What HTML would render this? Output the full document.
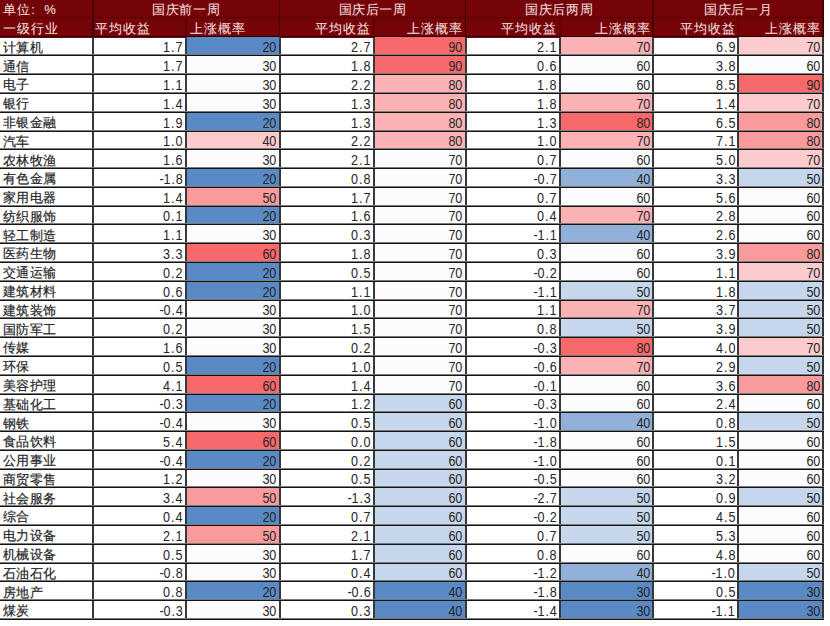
<!DOCTYPE html>
<html><head><meta charset="utf-8"><style>
html,body{margin:0;padding:0;background:#fff;width:830px;height:626px;overflow:hidden}
body{position:relative;font-family:"Liberation Sans",sans-serif;color:#262626}
.bg{position:absolute}
.c{position:absolute;box-sizing:border-box;font-size:14px;line-height:17px;height:17px;white-space:nowrap}
.n{padding-left:3px;font-size:13px;letter-spacing:0.3px;-webkit-text-stroke:0.2px #262626}
.v{text-align:right;padding-right:3.4px;font-size:14px;letter-spacing:-0.3px}
.v b{font-weight:normal;display:inline-block;transform:scaleX(0.9);transform-origin:100% 50%}
.v i{font-style:normal;margin:0 1.3px}
.vl{position:absolute;width:2px;background:#383838}
.hl{position:absolute;left:0;width:824px;height:2px;background:linear-gradient(#7a7a7a 50%,#141414 50%)}
.hd{position:absolute;background:#740408}
.hhl{position:absolute;left:0;width:824.3px;height:1px;background:#560000}
.hbl{position:absolute;left:0;width:824.3px;height:1.6px;background:#2a0000}
.ht{position:absolute;font-size:13px;letter-spacing:0.6px;-webkit-text-stroke:0.1px #f0dcdc;line-height:18px;color:#f0dcdc;white-space:nowrap;box-sizing:border-box}
.hvl{position:absolute;width:1.5px;background:#420000}
</style></head><body>
<div class="hd" style="left:0;top:0;width:824.3px;height:37.6px"></div><div class="hhl" style="top:17.3px"></div><div class="hbl" style="top:35.8px"></div><div class="hvl" style="left:92.10px;top:0;height:37px"></div><div class="ht" style="left:3px;top:1px">单位<span style="margin-left:1px;letter-spacing:0">:</span></div><div class="ht" style="left:44.3px;top:1px">%</div><div class="ht" style="left:3px;top:19.8px;letter-spacing:0.9px">一级行业</div><div class="ht" style="left:93.10px;width:186.40px;top:1px;text-align:center">国庆前一周</div><div class="ht" style="left:95.10px;top:19.8px;letter-spacing:1px">平均收益</div><div class="ht" style="left:189.60px;top:19.8px;letter-spacing:1px">上涨概率</div><div class="hvl" style="left:185.10px;top:17.5px;height:19px;opacity:.45"></div><div class="hvl" style="left:278.50px;top:0;height:37px"></div><div class="ht" style="left:279.50px;width:186.00px;top:1px;text-align:center">国庆后一周</div><div class="ht" style="left:279.50px;width:91.80px;top:19.8px;letter-spacing:1px;text-align:right">平均收益</div><div class="ht" style="left:373.50px;width:89.80px;top:19.8px;letter-spacing:1px;text-align:right">上涨概率</div><div class="hvl" style="left:373.00px;top:17.5px;height:19px;opacity:.45"></div><div class="hvl" style="left:464.50px;top:0;height:37px"></div><div class="ht" style="left:465.50px;width:187.60px;top:1px;text-align:center">国庆后两周</div><div class="ht" style="left:465.50px;width:91.80px;top:19.8px;letter-spacing:1px;text-align:right">平均收益</div><div class="ht" style="left:559.50px;width:91.40px;top:19.8px;letter-spacing:1px;text-align:right">上涨概率</div><div class="hvl" style="left:559.00px;top:17.5px;height:19px;opacity:.45"></div><div class="hvl" style="left:652.10px;top:0;height:37px"></div><div class="ht" style="left:653.10px;width:170.20px;top:1px;text-align:center">国庆后一月</div><div class="ht" style="left:653.10px;width:82.80px;top:19.8px;letter-spacing:1px;text-align:right">平均收益</div><div class="ht" style="left:738.10px;width:83.00px;top:19.8px;letter-spacing:1px;text-align:right">上涨概率</div><div class="hvl" style="left:737.60px;top:17.5px;height:19px;opacity:.45"></div><div class="hvl" style="left:822.30px;top:0;height:37px"></div>
<div class="bg" style="left:185.60px;top:36.60px;width:93.90px;height:18.79px;background:#5a8ac6"></div><div class="bg" style="left:373.50px;top:36.60px;width:92.00px;height:18.79px;background:#f8696b"></div><div class="bg" style="left:559.50px;top:36.60px;width:93.60px;height:18.79px;background:#fab2b5"></div><div class="bg" style="left:738.10px;top:36.60px;width:85.20px;height:18.79px;background:#fbcbce"></div><div class="bg" style="left:185.60px;top:55.39px;width:93.90px;height:18.79px;background:#fcfcff"></div><div class="bg" style="left:373.50px;top:55.39px;width:92.00px;height:18.79px;background:#f8696b"></div><div class="bg" style="left:559.50px;top:55.39px;width:93.60px;height:18.79px;background:#fcfcff"></div><div class="bg" style="left:738.10px;top:55.39px;width:85.20px;height:18.79px;background:#fcfcff"></div><div class="bg" style="left:185.60px;top:74.17px;width:93.90px;height:18.79px;background:#fcfcff"></div><div class="bg" style="left:373.50px;top:74.17px;width:92.00px;height:18.79px;background:#fab2b5"></div><div class="bg" style="left:559.50px;top:74.17px;width:93.60px;height:18.79px;background:#fcfcff"></div><div class="bg" style="left:738.10px;top:74.17px;width:85.20px;height:18.79px;background:#f8696b"></div><div class="bg" style="left:185.60px;top:92.96px;width:93.90px;height:18.79px;background:#fcfcff"></div><div class="bg" style="left:373.50px;top:92.96px;width:92.00px;height:18.79px;background:#fab2b5"></div><div class="bg" style="left:559.50px;top:92.96px;width:93.60px;height:18.79px;background:#fab2b5"></div><div class="bg" style="left:738.10px;top:92.96px;width:85.20px;height:18.79px;background:#fbcbce"></div><div class="bg" style="left:185.60px;top:111.74px;width:93.90px;height:18.79px;background:#5a8ac6"></div><div class="bg" style="left:373.50px;top:111.74px;width:92.00px;height:18.79px;background:#fab2b5"></div><div class="bg" style="left:559.50px;top:111.74px;width:93.60px;height:18.79px;background:#f8696b"></div><div class="bg" style="left:738.10px;top:111.74px;width:85.20px;height:18.79px;background:#f99a9c"></div><div class="bg" style="left:185.60px;top:130.53px;width:93.90px;height:18.79px;background:#fbcbce"></div><div class="bg" style="left:373.50px;top:130.53px;width:92.00px;height:18.79px;background:#fab2b5"></div><div class="bg" style="left:559.50px;top:130.53px;width:93.60px;height:18.79px;background:#fab2b5"></div><div class="bg" style="left:738.10px;top:130.53px;width:85.20px;height:18.79px;background:#f99a9c"></div><div class="bg" style="left:185.60px;top:149.31px;width:93.90px;height:18.79px;background:#fcfcff"></div><div class="bg" style="left:373.50px;top:149.31px;width:92.00px;height:18.79px;background:#fcfcff"></div><div class="bg" style="left:559.50px;top:149.31px;width:93.60px;height:18.79px;background:#fcfcff"></div><div class="bg" style="left:738.10px;top:149.31px;width:85.20px;height:18.79px;background:#fbcbce"></div><div class="bg" style="left:185.60px;top:168.09px;width:93.90px;height:18.79px;background:#5a8ac6"></div><div class="bg" style="left:373.50px;top:168.09px;width:92.00px;height:18.79px;background:#fcfcff"></div><div class="bg" style="left:559.50px;top:168.09px;width:93.60px;height:18.79px;background:#90b0d9"></div><div class="bg" style="left:738.10px;top:168.09px;width:85.20px;height:18.79px;background:#c6d6ec"></div><div class="bg" style="left:185.60px;top:186.88px;width:93.90px;height:18.79px;background:#f99a9c"></div><div class="bg" style="left:373.50px;top:186.88px;width:92.00px;height:18.79px;background:#fcfcff"></div><div class="bg" style="left:559.50px;top:186.88px;width:93.60px;height:18.79px;background:#fcfcff"></div><div class="bg" style="left:738.10px;top:186.88px;width:85.20px;height:18.79px;background:#fcfcff"></div><div class="bg" style="left:185.60px;top:205.66px;width:93.90px;height:18.79px;background:#5a8ac6"></div><div class="bg" style="left:373.50px;top:205.66px;width:92.00px;height:18.79px;background:#fcfcff"></div><div class="bg" style="left:559.50px;top:205.66px;width:93.60px;height:18.79px;background:#fab2b5"></div><div class="bg" style="left:738.10px;top:205.66px;width:85.20px;height:18.79px;background:#fcfcff"></div><div class="bg" style="left:185.60px;top:224.45px;width:93.90px;height:18.79px;background:#fcfcff"></div><div class="bg" style="left:373.50px;top:224.45px;width:92.00px;height:18.79px;background:#fcfcff"></div><div class="bg" style="left:559.50px;top:224.45px;width:93.60px;height:18.79px;background:#90b0d9"></div><div class="bg" style="left:738.10px;top:224.45px;width:85.20px;height:18.79px;background:#fcfcff"></div><div class="bg" style="left:185.60px;top:243.23px;width:93.90px;height:18.79px;background:#f8696b"></div><div class="bg" style="left:373.50px;top:243.23px;width:92.00px;height:18.79px;background:#fcfcff"></div><div class="bg" style="left:559.50px;top:243.23px;width:93.60px;height:18.79px;background:#fcfcff"></div><div class="bg" style="left:738.10px;top:243.23px;width:85.20px;height:18.79px;background:#f99a9c"></div><div class="bg" style="left:185.60px;top:262.02px;width:93.90px;height:18.79px;background:#5a8ac6"></div><div class="bg" style="left:373.50px;top:262.02px;width:92.00px;height:18.79px;background:#fcfcff"></div><div class="bg" style="left:559.50px;top:262.02px;width:93.60px;height:18.79px;background:#fcfcff"></div><div class="bg" style="left:738.10px;top:262.02px;width:85.20px;height:18.79px;background:#fbcbce"></div><div class="bg" style="left:185.60px;top:280.81px;width:93.90px;height:18.79px;background:#5a8ac6"></div><div class="bg" style="left:373.50px;top:280.81px;width:92.00px;height:18.79px;background:#fcfcff"></div><div class="bg" style="left:559.50px;top:280.81px;width:93.60px;height:18.79px;background:#c6d6ec"></div><div class="bg" style="left:738.10px;top:280.81px;width:85.20px;height:18.79px;background:#c6d6ec"></div><div class="bg" style="left:185.60px;top:299.59px;width:93.90px;height:18.79px;background:#fcfcff"></div><div class="bg" style="left:373.50px;top:299.59px;width:92.00px;height:18.79px;background:#fcfcff"></div><div class="bg" style="left:559.50px;top:299.59px;width:93.60px;height:18.79px;background:#fab2b5"></div><div class="bg" style="left:738.10px;top:299.59px;width:85.20px;height:18.79px;background:#c6d6ec"></div><div class="bg" style="left:185.60px;top:318.38px;width:93.90px;height:18.79px;background:#fcfcff"></div><div class="bg" style="left:373.50px;top:318.38px;width:92.00px;height:18.79px;background:#fcfcff"></div><div class="bg" style="left:559.50px;top:318.38px;width:93.60px;height:18.79px;background:#c6d6ec"></div><div class="bg" style="left:738.10px;top:318.38px;width:85.20px;height:18.79px;background:#c6d6ec"></div><div class="bg" style="left:185.60px;top:337.16px;width:93.90px;height:18.79px;background:#fcfcff"></div><div class="bg" style="left:373.50px;top:337.16px;width:92.00px;height:18.79px;background:#fcfcff"></div><div class="bg" style="left:559.50px;top:337.16px;width:93.60px;height:18.79px;background:#f8696b"></div><div class="bg" style="left:738.10px;top:337.16px;width:85.20px;height:18.79px;background:#fbcbce"></div><div class="bg" style="left:185.60px;top:355.95px;width:93.90px;height:18.79px;background:#5a8ac6"></div><div class="bg" style="left:373.50px;top:355.95px;width:92.00px;height:18.79px;background:#fcfcff"></div><div class="bg" style="left:559.50px;top:355.95px;width:93.60px;height:18.79px;background:#fab2b5"></div><div class="bg" style="left:738.10px;top:355.95px;width:85.20px;height:18.79px;background:#c6d6ec"></div><div class="bg" style="left:185.60px;top:374.73px;width:93.90px;height:18.79px;background:#f8696b"></div><div class="bg" style="left:373.50px;top:374.73px;width:92.00px;height:18.79px;background:#fcfcff"></div><div class="bg" style="left:559.50px;top:374.73px;width:93.60px;height:18.79px;background:#fcfcff"></div><div class="bg" style="left:738.10px;top:374.73px;width:85.20px;height:18.79px;background:#f99a9c"></div><div class="bg" style="left:185.60px;top:393.52px;width:93.90px;height:18.79px;background:#5a8ac6"></div><div class="bg" style="left:373.50px;top:393.52px;width:92.00px;height:18.79px;background:#c6d6ec"></div><div class="bg" style="left:559.50px;top:393.52px;width:93.60px;height:18.79px;background:#fcfcff"></div><div class="bg" style="left:738.10px;top:393.52px;width:85.20px;height:18.79px;background:#fcfcff"></div><div class="bg" style="left:185.60px;top:412.30px;width:93.90px;height:18.79px;background:#fcfcff"></div><div class="bg" style="left:373.50px;top:412.30px;width:92.00px;height:18.79px;background:#c6d6ec"></div><div class="bg" style="left:559.50px;top:412.30px;width:93.60px;height:18.79px;background:#90b0d9"></div><div class="bg" style="left:738.10px;top:412.30px;width:85.20px;height:18.79px;background:#c6d6ec"></div><div class="bg" style="left:185.60px;top:431.09px;width:93.90px;height:18.79px;background:#f8696b"></div><div class="bg" style="left:373.50px;top:431.09px;width:92.00px;height:18.79px;background:#c6d6ec"></div><div class="bg" style="left:559.50px;top:431.09px;width:93.60px;height:18.79px;background:#fcfcff"></div><div class="bg" style="left:738.10px;top:431.09px;width:85.20px;height:18.79px;background:#fcfcff"></div><div class="bg" style="left:185.60px;top:449.87px;width:93.90px;height:18.79px;background:#5a8ac6"></div><div class="bg" style="left:373.50px;top:449.87px;width:92.00px;height:18.79px;background:#c6d6ec"></div><div class="bg" style="left:559.50px;top:449.87px;width:93.60px;height:18.79px;background:#fcfcff"></div><div class="bg" style="left:738.10px;top:449.87px;width:85.20px;height:18.79px;background:#fcfcff"></div><div class="bg" style="left:185.60px;top:468.66px;width:93.90px;height:18.79px;background:#fcfcff"></div><div class="bg" style="left:373.50px;top:468.66px;width:92.00px;height:18.79px;background:#c6d6ec"></div><div class="bg" style="left:559.50px;top:468.66px;width:93.60px;height:18.79px;background:#fcfcff"></div><div class="bg" style="left:738.10px;top:468.66px;width:85.20px;height:18.79px;background:#fcfcff"></div><div class="bg" style="left:185.60px;top:487.44px;width:93.90px;height:18.79px;background:#f99a9c"></div><div class="bg" style="left:373.50px;top:487.44px;width:92.00px;height:18.79px;background:#c6d6ec"></div><div class="bg" style="left:559.50px;top:487.44px;width:93.60px;height:18.79px;background:#c6d6ec"></div><div class="bg" style="left:738.10px;top:487.44px;width:85.20px;height:18.79px;background:#c6d6ec"></div><div class="bg" style="left:185.60px;top:506.23px;width:93.90px;height:18.79px;background:#5a8ac6"></div><div class="bg" style="left:373.50px;top:506.23px;width:92.00px;height:18.79px;background:#c6d6ec"></div><div class="bg" style="left:559.50px;top:506.23px;width:93.60px;height:18.79px;background:#c6d6ec"></div><div class="bg" style="left:738.10px;top:506.23px;width:85.20px;height:18.79px;background:#fcfcff"></div><div class="bg" style="left:185.60px;top:525.01px;width:93.90px;height:18.79px;background:#f99a9c"></div><div class="bg" style="left:373.50px;top:525.01px;width:92.00px;height:18.79px;background:#c6d6ec"></div><div class="bg" style="left:559.50px;top:525.01px;width:93.60px;height:18.79px;background:#c6d6ec"></div><div class="bg" style="left:738.10px;top:525.01px;width:85.20px;height:18.79px;background:#fcfcff"></div><div class="bg" style="left:185.60px;top:543.79px;width:93.90px;height:18.79px;background:#fcfcff"></div><div class="bg" style="left:373.50px;top:543.79px;width:92.00px;height:18.79px;background:#c6d6ec"></div><div class="bg" style="left:559.50px;top:543.79px;width:93.60px;height:18.79px;background:#fcfcff"></div><div class="bg" style="left:738.10px;top:543.79px;width:85.20px;height:18.79px;background:#fcfcff"></div><div class="bg" style="left:185.60px;top:562.58px;width:93.90px;height:18.79px;background:#fcfcff"></div><div class="bg" style="left:373.50px;top:562.58px;width:92.00px;height:18.79px;background:#c6d6ec"></div><div class="bg" style="left:559.50px;top:562.58px;width:93.60px;height:18.79px;background:#90b0d9"></div><div class="bg" style="left:738.10px;top:562.58px;width:85.20px;height:18.79px;background:#c6d6ec"></div><div class="bg" style="left:185.60px;top:581.37px;width:93.90px;height:18.79px;background:#5a8ac6"></div><div class="bg" style="left:373.50px;top:581.37px;width:92.00px;height:18.79px;background:#5a8ac6"></div><div class="bg" style="left:559.50px;top:581.37px;width:93.60px;height:18.79px;background:#5a8ac6"></div><div class="bg" style="left:738.10px;top:581.37px;width:85.20px;height:18.79px;background:#5a8ac6"></div><div class="bg" style="left:185.60px;top:600.15px;width:93.90px;height:18.79px;background:#fcfcff"></div><div class="bg" style="left:373.50px;top:600.15px;width:92.00px;height:18.79px;background:#5a8ac6"></div><div class="bg" style="left:559.50px;top:600.15px;width:93.60px;height:18.79px;background:#5a8ac6"></div><div class="bg" style="left:738.10px;top:600.15px;width:85.20px;height:18.79px;background:#5a8ac6"></div>
<div class="vl" style="left:92px;top:36.60px;height:583.34px"></div><div class="vl" style="left:185px;top:36.60px;height:583.34px"></div><div class="vl" style="left:279px;top:36.60px;height:583.34px"></div><div class="vl" style="left:373px;top:36.60px;height:583.34px"></div><div class="vl" style="left:465px;top:36.60px;height:583.34px"></div><div class="vl" style="left:559px;top:36.60px;height:583.34px"></div><div class="vl" style="left:652px;top:36.60px;height:583.34px"></div><div class="vl" style="left:737px;top:36.60px;height:583.34px"></div><div class="vl" style="left:822px;top:36.60px;height:583.34px"></div><div class="hl" style="top:54px"></div><div class="hl" style="top:73px"></div><div class="hl" style="top:92px"></div><div class="hl" style="top:111px"></div><div class="hl" style="top:130px"></div><div class="hl" style="top:148px"></div><div class="hl" style="top:167px"></div><div class="hl" style="top:186px"></div><div class="hl" style="top:205px"></div><div class="hl" style="top:223px"></div><div class="hl" style="top:242px"></div><div class="hl" style="top:261px"></div><div class="hl" style="top:280px"></div><div class="hl" style="top:299px"></div><div class="hl" style="top:317px"></div><div class="hl" style="top:336px"></div><div class="hl" style="top:355px"></div><div class="hl" style="top:374px"></div><div class="hl" style="top:393px"></div><div class="hl" style="top:411px"></div><div class="hl" style="top:430px"></div><div class="hl" style="top:449px"></div><div class="hl" style="top:468px"></div><div class="hl" style="top:486px"></div><div class="hl" style="top:505px"></div><div class="hl" style="top:524px"></div><div class="hl" style="top:543px"></div><div class="hl" style="top:562px"></div><div class="hl" style="top:580px"></div><div class="hl" style="top:599px"></div><div class="hl" style="top:618px"></div>
<div class="c n" style="left:0;top:38.80px;width:93.10px">计算机</div><div class="c v" style="left:93.10px;top:39.40px;width:92.50px"><b>1<i>.</i>7</b></div><div class="c v" style="left:185.60px;top:39.40px;width:93.90px"><b>20</b></div><div class="c v" style="left:279.50px;top:39.40px;width:94.00px"><b>2<i>.</i>7</b></div><div class="c v" style="left:373.50px;top:39.40px;width:92.00px"><b>90</b></div><div class="c v" style="left:465.50px;top:39.40px;width:94.00px"><b>2<i>.</i>1</b></div><div class="c v" style="left:559.50px;top:39.40px;width:93.60px"><b>70</b></div><div class="c v" style="left:653.10px;top:39.40px;width:85.00px"><b>6<i>.</i>9</b></div><div class="c v" style="left:738.10px;top:39.40px;width:85.20px"><b>70</b></div><div class="c n" style="left:0;top:57.59px;width:93.10px">通信</div><div class="c v" style="left:93.10px;top:58.19px;width:92.50px"><b>1<i>.</i>7</b></div><div class="c v" style="left:185.60px;top:58.19px;width:93.90px"><b>30</b></div><div class="c v" style="left:279.50px;top:58.19px;width:94.00px"><b>1<i>.</i>8</b></div><div class="c v" style="left:373.50px;top:58.19px;width:92.00px"><b>90</b></div><div class="c v" style="left:465.50px;top:58.19px;width:94.00px"><b>0<i>.</i>6</b></div><div class="c v" style="left:559.50px;top:58.19px;width:93.60px"><b>60</b></div><div class="c v" style="left:653.10px;top:58.19px;width:85.00px"><b>3<i>.</i>8</b></div><div class="c v" style="left:738.10px;top:58.19px;width:85.20px"><b>60</b></div><div class="c n" style="left:0;top:76.37px;width:93.10px">电子</div><div class="c v" style="left:93.10px;top:76.97px;width:92.50px"><b>1<i>.</i>1</b></div><div class="c v" style="left:185.60px;top:76.97px;width:93.90px"><b>30</b></div><div class="c v" style="left:279.50px;top:76.97px;width:94.00px"><b>2<i>.</i>2</b></div><div class="c v" style="left:373.50px;top:76.97px;width:92.00px"><b>80</b></div><div class="c v" style="left:465.50px;top:76.97px;width:94.00px"><b>1<i>.</i>8</b></div><div class="c v" style="left:559.50px;top:76.97px;width:93.60px"><b>60</b></div><div class="c v" style="left:653.10px;top:76.97px;width:85.00px"><b>8<i>.</i>5</b></div><div class="c v" style="left:738.10px;top:76.97px;width:85.20px"><b>90</b></div><div class="c n" style="left:0;top:95.16px;width:93.10px">银行</div><div class="c v" style="left:93.10px;top:95.76px;width:92.50px"><b>1<i>.</i>4</b></div><div class="c v" style="left:185.60px;top:95.76px;width:93.90px"><b>30</b></div><div class="c v" style="left:279.50px;top:95.76px;width:94.00px"><b>1<i>.</i>3</b></div><div class="c v" style="left:373.50px;top:95.76px;width:92.00px"><b>80</b></div><div class="c v" style="left:465.50px;top:95.76px;width:94.00px"><b>1<i>.</i>8</b></div><div class="c v" style="left:559.50px;top:95.76px;width:93.60px"><b>70</b></div><div class="c v" style="left:653.10px;top:95.76px;width:85.00px"><b>1<i>.</i>4</b></div><div class="c v" style="left:738.10px;top:95.76px;width:85.20px"><b>70</b></div><div class="c n" style="left:0;top:113.94px;width:93.10px">非银金融</div><div class="c v" style="left:93.10px;top:114.54px;width:92.50px"><b>1<i>.</i>9</b></div><div class="c v" style="left:185.60px;top:114.54px;width:93.90px"><b>20</b></div><div class="c v" style="left:279.50px;top:114.54px;width:94.00px"><b>1<i>.</i>3</b></div><div class="c v" style="left:373.50px;top:114.54px;width:92.00px"><b>80</b></div><div class="c v" style="left:465.50px;top:114.54px;width:94.00px"><b>1<i>.</i>3</b></div><div class="c v" style="left:559.50px;top:114.54px;width:93.60px"><b>80</b></div><div class="c v" style="left:653.10px;top:114.54px;width:85.00px"><b>6<i>.</i>5</b></div><div class="c v" style="left:738.10px;top:114.54px;width:85.20px"><b>80</b></div><div class="c n" style="left:0;top:132.73px;width:93.10px">汽车</div><div class="c v" style="left:93.10px;top:133.33px;width:92.50px"><b>1<i>.</i>0</b></div><div class="c v" style="left:185.60px;top:133.33px;width:93.90px"><b>40</b></div><div class="c v" style="left:279.50px;top:133.33px;width:94.00px"><b>2<i>.</i>2</b></div><div class="c v" style="left:373.50px;top:133.33px;width:92.00px"><b>80</b></div><div class="c v" style="left:465.50px;top:133.33px;width:94.00px"><b>1<i>.</i>0</b></div><div class="c v" style="left:559.50px;top:133.33px;width:93.60px"><b>70</b></div><div class="c v" style="left:653.10px;top:133.33px;width:85.00px"><b>7<i>.</i>1</b></div><div class="c v" style="left:738.10px;top:133.33px;width:85.20px"><b>80</b></div><div class="c n" style="left:0;top:151.51px;width:93.10px">农林牧渔</div><div class="c v" style="left:93.10px;top:152.11px;width:92.50px"><b>1<i>.</i>6</b></div><div class="c v" style="left:185.60px;top:152.11px;width:93.90px"><b>30</b></div><div class="c v" style="left:279.50px;top:152.11px;width:94.00px"><b>2<i>.</i>1</b></div><div class="c v" style="left:373.50px;top:152.11px;width:92.00px"><b>70</b></div><div class="c v" style="left:465.50px;top:152.11px;width:94.00px"><b>0<i>.</i>7</b></div><div class="c v" style="left:559.50px;top:152.11px;width:93.60px"><b>60</b></div><div class="c v" style="left:653.10px;top:152.11px;width:85.00px"><b>5<i>.</i>0</b></div><div class="c v" style="left:738.10px;top:152.11px;width:85.20px"><b>70</b></div><div class="c n" style="left:0;top:170.30px;width:93.10px">有色金属</div><div class="c v" style="left:93.10px;top:170.90px;width:92.50px"><b>-1<i>.</i>8</b></div><div class="c v" style="left:185.60px;top:170.90px;width:93.90px"><b>20</b></div><div class="c v" style="left:279.50px;top:170.90px;width:94.00px"><b>0<i>.</i>8</b></div><div class="c v" style="left:373.50px;top:170.90px;width:92.00px"><b>70</b></div><div class="c v" style="left:465.50px;top:170.90px;width:94.00px"><b>-0<i>.</i>7</b></div><div class="c v" style="left:559.50px;top:170.90px;width:93.60px"><b>40</b></div><div class="c v" style="left:653.10px;top:170.90px;width:85.00px"><b>3<i>.</i>3</b></div><div class="c v" style="left:738.10px;top:170.90px;width:85.20px"><b>50</b></div><div class="c n" style="left:0;top:189.08px;width:93.10px">家用电器</div><div class="c v" style="left:93.10px;top:189.68px;width:92.50px"><b>1<i>.</i>4</b></div><div class="c v" style="left:185.60px;top:189.68px;width:93.90px"><b>50</b></div><div class="c v" style="left:279.50px;top:189.68px;width:94.00px"><b>1<i>.</i>7</b></div><div class="c v" style="left:373.50px;top:189.68px;width:92.00px"><b>70</b></div><div class="c v" style="left:465.50px;top:189.68px;width:94.00px"><b>0<i>.</i>7</b></div><div class="c v" style="left:559.50px;top:189.68px;width:93.60px"><b>60</b></div><div class="c v" style="left:653.10px;top:189.68px;width:85.00px"><b>5<i>.</i>6</b></div><div class="c v" style="left:738.10px;top:189.68px;width:85.20px"><b>60</b></div><div class="c n" style="left:0;top:207.87px;width:93.10px">纺织服饰</div><div class="c v" style="left:93.10px;top:208.47px;width:92.50px"><b>0<i>.</i>1</b></div><div class="c v" style="left:185.60px;top:208.47px;width:93.90px"><b>20</b></div><div class="c v" style="left:279.50px;top:208.47px;width:94.00px"><b>1<i>.</i>6</b></div><div class="c v" style="left:373.50px;top:208.47px;width:92.00px"><b>70</b></div><div class="c v" style="left:465.50px;top:208.47px;width:94.00px"><b>0<i>.</i>4</b></div><div class="c v" style="left:559.50px;top:208.47px;width:93.60px"><b>70</b></div><div class="c v" style="left:653.10px;top:208.47px;width:85.00px"><b>2<i>.</i>8</b></div><div class="c v" style="left:738.10px;top:208.47px;width:85.20px"><b>60</b></div><div class="c n" style="left:0;top:226.65px;width:93.10px">轻工制造</div><div class="c v" style="left:93.10px;top:227.25px;width:92.50px"><b>1<i>.</i>1</b></div><div class="c v" style="left:185.60px;top:227.25px;width:93.90px"><b>30</b></div><div class="c v" style="left:279.50px;top:227.25px;width:94.00px"><b>0<i>.</i>3</b></div><div class="c v" style="left:373.50px;top:227.25px;width:92.00px"><b>70</b></div><div class="c v" style="left:465.50px;top:227.25px;width:94.00px"><b>-1<i>.</i>1</b></div><div class="c v" style="left:559.50px;top:227.25px;width:93.60px"><b>40</b></div><div class="c v" style="left:653.10px;top:227.25px;width:85.00px"><b>2<i>.</i>6</b></div><div class="c v" style="left:738.10px;top:227.25px;width:85.20px"><b>60</b></div><div class="c n" style="left:0;top:245.44px;width:93.10px">医药生物</div><div class="c v" style="left:93.10px;top:246.03px;width:92.50px"><b>3<i>.</i>3</b></div><div class="c v" style="left:185.60px;top:246.03px;width:93.90px"><b>60</b></div><div class="c v" style="left:279.50px;top:246.03px;width:94.00px"><b>1<i>.</i>8</b></div><div class="c v" style="left:373.50px;top:246.03px;width:92.00px"><b>70</b></div><div class="c v" style="left:465.50px;top:246.03px;width:94.00px"><b>0<i>.</i>3</b></div><div class="c v" style="left:559.50px;top:246.03px;width:93.60px"><b>60</b></div><div class="c v" style="left:653.10px;top:246.03px;width:85.00px"><b>3<i>.</i>9</b></div><div class="c v" style="left:738.10px;top:246.03px;width:85.20px"><b>80</b></div><div class="c n" style="left:0;top:264.22px;width:93.10px">交通运输</div><div class="c v" style="left:93.10px;top:264.82px;width:92.50px"><b>0<i>.</i>2</b></div><div class="c v" style="left:185.60px;top:264.82px;width:93.90px"><b>20</b></div><div class="c v" style="left:279.50px;top:264.82px;width:94.00px"><b>0<i>.</i>5</b></div><div class="c v" style="left:373.50px;top:264.82px;width:92.00px"><b>70</b></div><div class="c v" style="left:465.50px;top:264.82px;width:94.00px"><b>-0<i>.</i>2</b></div><div class="c v" style="left:559.50px;top:264.82px;width:93.60px"><b>60</b></div><div class="c v" style="left:653.10px;top:264.82px;width:85.00px"><b>1<i>.</i>1</b></div><div class="c v" style="left:738.10px;top:264.82px;width:85.20px"><b>70</b></div><div class="c n" style="left:0;top:283.00px;width:93.10px">建筑材料</div><div class="c v" style="left:93.10px;top:283.61px;width:92.50px"><b>0<i>.</i>6</b></div><div class="c v" style="left:185.60px;top:283.61px;width:93.90px"><b>20</b></div><div class="c v" style="left:279.50px;top:283.61px;width:94.00px"><b>1<i>.</i>1</b></div><div class="c v" style="left:373.50px;top:283.61px;width:92.00px"><b>70</b></div><div class="c v" style="left:465.50px;top:283.61px;width:94.00px"><b>-1<i>.</i>1</b></div><div class="c v" style="left:559.50px;top:283.61px;width:93.60px"><b>50</b></div><div class="c v" style="left:653.10px;top:283.61px;width:85.00px"><b>1<i>.</i>8</b></div><div class="c v" style="left:738.10px;top:283.61px;width:85.20px"><b>50</b></div><div class="c n" style="left:0;top:301.79px;width:93.10px">建筑装饰</div><div class="c v" style="left:93.10px;top:302.39px;width:92.50px"><b>-0<i>.</i>4</b></div><div class="c v" style="left:185.60px;top:302.39px;width:93.90px"><b>30</b></div><div class="c v" style="left:279.50px;top:302.39px;width:94.00px"><b>1<i>.</i>0</b></div><div class="c v" style="left:373.50px;top:302.39px;width:92.00px"><b>70</b></div><div class="c v" style="left:465.50px;top:302.39px;width:94.00px"><b>1<i>.</i>1</b></div><div class="c v" style="left:559.50px;top:302.39px;width:93.60px"><b>70</b></div><div class="c v" style="left:653.10px;top:302.39px;width:85.00px"><b>3<i>.</i>7</b></div><div class="c v" style="left:738.10px;top:302.39px;width:85.20px"><b>50</b></div><div class="c n" style="left:0;top:320.57px;width:93.10px">国防军工</div><div class="c v" style="left:93.10px;top:321.18px;width:92.50px"><b>0<i>.</i>2</b></div><div class="c v" style="left:185.60px;top:321.18px;width:93.90px"><b>30</b></div><div class="c v" style="left:279.50px;top:321.18px;width:94.00px"><b>1<i>.</i>5</b></div><div class="c v" style="left:373.50px;top:321.18px;width:92.00px"><b>70</b></div><div class="c v" style="left:465.50px;top:321.18px;width:94.00px"><b>0<i>.</i>8</b></div><div class="c v" style="left:559.50px;top:321.18px;width:93.60px"><b>50</b></div><div class="c v" style="left:653.10px;top:321.18px;width:85.00px"><b>3<i>.</i>9</b></div><div class="c v" style="left:738.10px;top:321.18px;width:85.20px"><b>50</b></div><div class="c n" style="left:0;top:339.36px;width:93.10px">传媒</div><div class="c v" style="left:93.10px;top:339.96px;width:92.50px"><b>1<i>.</i>6</b></div><div class="c v" style="left:185.60px;top:339.96px;width:93.90px"><b>30</b></div><div class="c v" style="left:279.50px;top:339.96px;width:94.00px"><b>0<i>.</i>2</b></div><div class="c v" style="left:373.50px;top:339.96px;width:92.00px"><b>70</b></div><div class="c v" style="left:465.50px;top:339.96px;width:94.00px"><b>-0<i>.</i>3</b></div><div class="c v" style="left:559.50px;top:339.96px;width:93.60px"><b>80</b></div><div class="c v" style="left:653.10px;top:339.96px;width:85.00px"><b>4<i>.</i>0</b></div><div class="c v" style="left:738.10px;top:339.96px;width:85.20px"><b>70</b></div><div class="c n" style="left:0;top:358.15px;width:93.10px">环保</div><div class="c v" style="left:93.10px;top:358.75px;width:92.50px"><b>0<i>.</i>5</b></div><div class="c v" style="left:185.60px;top:358.75px;width:93.90px"><b>20</b></div><div class="c v" style="left:279.50px;top:358.75px;width:94.00px"><b>1<i>.</i>0</b></div><div class="c v" style="left:373.50px;top:358.75px;width:92.00px"><b>70</b></div><div class="c v" style="left:465.50px;top:358.75px;width:94.00px"><b>-0<i>.</i>6</b></div><div class="c v" style="left:559.50px;top:358.75px;width:93.60px"><b>70</b></div><div class="c v" style="left:653.10px;top:358.75px;width:85.00px"><b>2<i>.</i>9</b></div><div class="c v" style="left:738.10px;top:358.75px;width:85.20px"><b>50</b></div><div class="c n" style="left:0;top:376.93px;width:93.10px">美容护理</div><div class="c v" style="left:93.10px;top:377.53px;width:92.50px"><b>4<i>.</i>1</b></div><div class="c v" style="left:185.60px;top:377.53px;width:93.90px"><b>60</b></div><div class="c v" style="left:279.50px;top:377.53px;width:94.00px"><b>1<i>.</i>4</b></div><div class="c v" style="left:373.50px;top:377.53px;width:92.00px"><b>70</b></div><div class="c v" style="left:465.50px;top:377.53px;width:94.00px"><b>-0<i>.</i>1</b></div><div class="c v" style="left:559.50px;top:377.53px;width:93.60px"><b>60</b></div><div class="c v" style="left:653.10px;top:377.53px;width:85.00px"><b>3<i>.</i>6</b></div><div class="c v" style="left:738.10px;top:377.53px;width:85.20px"><b>80</b></div><div class="c n" style="left:0;top:395.72px;width:93.10px">基础化工</div><div class="c v" style="left:93.10px;top:396.32px;width:92.50px"><b>-0<i>.</i>3</b></div><div class="c v" style="left:185.60px;top:396.32px;width:93.90px"><b>20</b></div><div class="c v" style="left:279.50px;top:396.32px;width:94.00px"><b>1<i>.</i>2</b></div><div class="c v" style="left:373.50px;top:396.32px;width:92.00px"><b>60</b></div><div class="c v" style="left:465.50px;top:396.32px;width:94.00px"><b>-0<i>.</i>3</b></div><div class="c v" style="left:559.50px;top:396.32px;width:93.60px"><b>60</b></div><div class="c v" style="left:653.10px;top:396.32px;width:85.00px"><b>2<i>.</i>4</b></div><div class="c v" style="left:738.10px;top:396.32px;width:85.20px"><b>60</b></div><div class="c n" style="left:0;top:414.50px;width:93.10px">钢铁</div><div class="c v" style="left:93.10px;top:415.10px;width:92.50px"><b>-0<i>.</i>4</b></div><div class="c v" style="left:185.60px;top:415.10px;width:93.90px"><b>30</b></div><div class="c v" style="left:279.50px;top:415.10px;width:94.00px"><b>0<i>.</i>5</b></div><div class="c v" style="left:373.50px;top:415.10px;width:92.00px"><b>60</b></div><div class="c v" style="left:465.50px;top:415.10px;width:94.00px"><b>-1<i>.</i>0</b></div><div class="c v" style="left:559.50px;top:415.10px;width:93.60px"><b>40</b></div><div class="c v" style="left:653.10px;top:415.10px;width:85.00px"><b>0<i>.</i>8</b></div><div class="c v" style="left:738.10px;top:415.10px;width:85.20px"><b>50</b></div><div class="c n" style="left:0;top:433.29px;width:93.10px">食品饮料</div><div class="c v" style="left:93.10px;top:433.89px;width:92.50px"><b>5<i>.</i>4</b></div><div class="c v" style="left:185.60px;top:433.89px;width:93.90px"><b>60</b></div><div class="c v" style="left:279.50px;top:433.89px;width:94.00px"><b>0<i>.</i>0</b></div><div class="c v" style="left:373.50px;top:433.89px;width:92.00px"><b>60</b></div><div class="c v" style="left:465.50px;top:433.89px;width:94.00px"><b>-1<i>.</i>8</b></div><div class="c v" style="left:559.50px;top:433.89px;width:93.60px"><b>60</b></div><div class="c v" style="left:653.10px;top:433.89px;width:85.00px"><b>1<i>.</i>5</b></div><div class="c v" style="left:738.10px;top:433.89px;width:85.20px"><b>60</b></div><div class="c n" style="left:0;top:452.07px;width:93.10px">公用事业</div><div class="c v" style="left:93.10px;top:452.67px;width:92.50px"><b>-0<i>.</i>4</b></div><div class="c v" style="left:185.60px;top:452.67px;width:93.90px"><b>20</b></div><div class="c v" style="left:279.50px;top:452.67px;width:94.00px"><b>0<i>.</i>2</b></div><div class="c v" style="left:373.50px;top:452.67px;width:92.00px"><b>60</b></div><div class="c v" style="left:465.50px;top:452.67px;width:94.00px"><b>-1<i>.</i>0</b></div><div class="c v" style="left:559.50px;top:452.67px;width:93.60px"><b>60</b></div><div class="c v" style="left:653.10px;top:452.67px;width:85.00px"><b>0<i>.</i>1</b></div><div class="c v" style="left:738.10px;top:452.67px;width:85.20px"><b>60</b></div><div class="c n" style="left:0;top:470.86px;width:93.10px">商贸零售</div><div class="c v" style="left:93.10px;top:471.46px;width:92.50px"><b>1<i>.</i>2</b></div><div class="c v" style="left:185.60px;top:471.46px;width:93.90px"><b>30</b></div><div class="c v" style="left:279.50px;top:471.46px;width:94.00px"><b>0<i>.</i>5</b></div><div class="c v" style="left:373.50px;top:471.46px;width:92.00px"><b>60</b></div><div class="c v" style="left:465.50px;top:471.46px;width:94.00px"><b>-0<i>.</i>5</b></div><div class="c v" style="left:559.50px;top:471.46px;width:93.60px"><b>60</b></div><div class="c v" style="left:653.10px;top:471.46px;width:85.00px"><b>3<i>.</i>2</b></div><div class="c v" style="left:738.10px;top:471.46px;width:85.20px"><b>60</b></div><div class="c n" style="left:0;top:489.64px;width:93.10px">社会服务</div><div class="c v" style="left:93.10px;top:490.24px;width:92.50px"><b>3<i>.</i>4</b></div><div class="c v" style="left:185.60px;top:490.24px;width:93.90px"><b>50</b></div><div class="c v" style="left:279.50px;top:490.24px;width:94.00px"><b>-1<i>.</i>3</b></div><div class="c v" style="left:373.50px;top:490.24px;width:92.00px"><b>60</b></div><div class="c v" style="left:465.50px;top:490.24px;width:94.00px"><b>-2<i>.</i>7</b></div><div class="c v" style="left:559.50px;top:490.24px;width:93.60px"><b>50</b></div><div class="c v" style="left:653.10px;top:490.24px;width:85.00px"><b>0<i>.</i>9</b></div><div class="c v" style="left:738.10px;top:490.24px;width:85.20px"><b>50</b></div><div class="c n" style="left:0;top:508.43px;width:93.10px">综合</div><div class="c v" style="left:93.10px;top:509.03px;width:92.50px"><b>0<i>.</i>4</b></div><div class="c v" style="left:185.60px;top:509.03px;width:93.90px"><b>20</b></div><div class="c v" style="left:279.50px;top:509.03px;width:94.00px"><b>0<i>.</i>7</b></div><div class="c v" style="left:373.50px;top:509.03px;width:92.00px"><b>60</b></div><div class="c v" style="left:465.50px;top:509.03px;width:94.00px"><b>-0<i>.</i>2</b></div><div class="c v" style="left:559.50px;top:509.03px;width:93.60px"><b>50</b></div><div class="c v" style="left:653.10px;top:509.03px;width:85.00px"><b>4<i>.</i>5</b></div><div class="c v" style="left:738.10px;top:509.03px;width:85.20px"><b>60</b></div><div class="c n" style="left:0;top:527.21px;width:93.10px">电力设备</div><div class="c v" style="left:93.10px;top:527.81px;width:92.50px"><b>2<i>.</i>1</b></div><div class="c v" style="left:185.60px;top:527.81px;width:93.90px"><b>50</b></div><div class="c v" style="left:279.50px;top:527.81px;width:94.00px"><b>2<i>.</i>1</b></div><div class="c v" style="left:373.50px;top:527.81px;width:92.00px"><b>60</b></div><div class="c v" style="left:465.50px;top:527.81px;width:94.00px"><b>0<i>.</i>7</b></div><div class="c v" style="left:559.50px;top:527.81px;width:93.60px"><b>50</b></div><div class="c v" style="left:653.10px;top:527.81px;width:85.00px"><b>5<i>.</i>3</b></div><div class="c v" style="left:738.10px;top:527.81px;width:85.20px"><b>60</b></div><div class="c n" style="left:0;top:545.99px;width:93.10px">机械设备</div><div class="c v" style="left:93.10px;top:546.59px;width:92.50px"><b>0<i>.</i>5</b></div><div class="c v" style="left:185.60px;top:546.59px;width:93.90px"><b>30</b></div><div class="c v" style="left:279.50px;top:546.59px;width:94.00px"><b>1<i>.</i>7</b></div><div class="c v" style="left:373.50px;top:546.59px;width:92.00px"><b>60</b></div><div class="c v" style="left:465.50px;top:546.59px;width:94.00px"><b>0<i>.</i>8</b></div><div class="c v" style="left:559.50px;top:546.59px;width:93.60px"><b>60</b></div><div class="c v" style="left:653.10px;top:546.59px;width:85.00px"><b>4<i>.</i>8</b></div><div class="c v" style="left:738.10px;top:546.59px;width:85.20px"><b>60</b></div><div class="c n" style="left:0;top:564.78px;width:93.10px">石油石化</div><div class="c v" style="left:93.10px;top:565.38px;width:92.50px"><b>-0<i>.</i>8</b></div><div class="c v" style="left:185.60px;top:565.38px;width:93.90px"><b>30</b></div><div class="c v" style="left:279.50px;top:565.38px;width:94.00px"><b>0<i>.</i>4</b></div><div class="c v" style="left:373.50px;top:565.38px;width:92.00px"><b>60</b></div><div class="c v" style="left:465.50px;top:565.38px;width:94.00px"><b>-1<i>.</i>2</b></div><div class="c v" style="left:559.50px;top:565.38px;width:93.60px"><b>40</b></div><div class="c v" style="left:653.10px;top:565.38px;width:85.00px"><b>-1<i>.</i>0</b></div><div class="c v" style="left:738.10px;top:565.38px;width:85.20px"><b>50</b></div><div class="c n" style="left:0;top:583.56px;width:93.10px">房地产</div><div class="c v" style="left:93.10px;top:584.16px;width:92.50px"><b>0<i>.</i>8</b></div><div class="c v" style="left:185.60px;top:584.16px;width:93.90px"><b>20</b></div><div class="c v" style="left:279.50px;top:584.16px;width:94.00px"><b>-0<i>.</i>6</b></div><div class="c v" style="left:373.50px;top:584.16px;width:92.00px"><b>40</b></div><div class="c v" style="left:465.50px;top:584.16px;width:94.00px"><b>-1<i>.</i>8</b></div><div class="c v" style="left:559.50px;top:584.16px;width:93.60px"><b>30</b></div><div class="c v" style="left:653.10px;top:584.16px;width:85.00px"><b>0<i>.</i>5</b></div><div class="c v" style="left:738.10px;top:584.16px;width:85.20px"><b>30</b></div><div class="c n" style="left:0;top:602.35px;width:93.10px">煤炭</div><div class="c v" style="left:93.10px;top:602.95px;width:92.50px"><b>-0<i>.</i>3</b></div><div class="c v" style="left:185.60px;top:602.95px;width:93.90px"><b>30</b></div><div class="c v" style="left:279.50px;top:602.95px;width:94.00px"><b>0<i>.</i>3</b></div><div class="c v" style="left:373.50px;top:602.95px;width:92.00px"><b>40</b></div><div class="c v" style="left:465.50px;top:602.95px;width:94.00px"><b>-1<i>.</i>4</b></div><div class="c v" style="left:559.50px;top:602.95px;width:93.60px"><b>30</b></div><div class="c v" style="left:653.10px;top:602.95px;width:85.00px"><b>-1<i>.</i>1</b></div><div class="c v" style="left:738.10px;top:602.95px;width:85.20px"><b>30</b></div>
</body></html>
